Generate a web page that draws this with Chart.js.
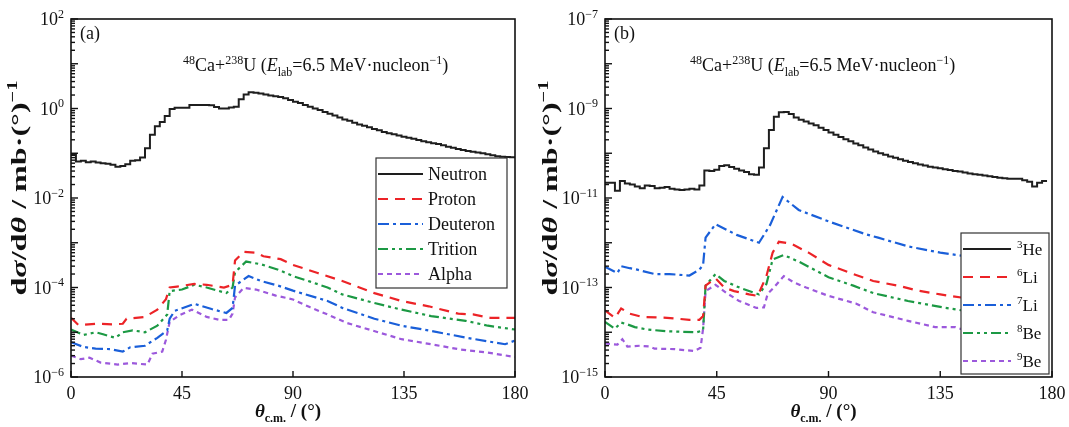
<!DOCTYPE html>
<html>
<head>
<meta charset="utf-8">
<script src="https://cdn.jsdelivr.net/npm/chart.js@4.4.0/dist/chart.umd.min.js"></script>
<style>
  html, body { margin: 0; padding: 0; background: #fff; }
  #wrap { position: relative; width: 1069px; height: 427px; }
  canvas { position: absolute; top: 0; }
</style>
</head>
<body>
<div id="wrap">
  <canvas id="chartA" width="535" height="427" style="left:0px"></canvas>
  <canvas id="chartB" width="534" height="427" style="left:535px"></canvas>
</div>
<script>
// ---- axis ticks ----
const thetaTicks = [0, 45, 90, 135, 180];
const decadeLabelsA = [2, 0, -2, -4, -6];
const decadeLabelsB = [-7, -9, -11, -13, -15];

// ---- panel (a): light particles ----
const binEdgesA = [0,2,4,6,8,10,12,14,16,18,20,22,24,26,28,30,32,34,36,38,40,42,44,46,48,50,52,54,56,58,
  60,62,64,66,68,70,72,74,76,78,80,82,84,86,88,90,92,94,96,98,100,102,104,106,108,110,112,114,116,118,
  120,122,124,126,128,130,132,134,136,138,140,142,144,146,148,150,152,154,156,158,160,162,164,166,168,170,172,174,176,178,180];
const neutron = [0.095,0.065,0.068,0.063,0.065,0.062,0.06,0.058,0.055,0.05,
  0.052,0.057,0.068,0.07,0.08,0.13,0.26,0.4,0.5,0.68,
  0.98,1.04,1.04,1.04,1.2,1.2,1.2,1.2,1.18,1.08,
  1.0,1.0,1.05,1.1,1.6,2.05,2.3,2.25,2.15,2.05,
  1.95,1.87,1.8,1.7,1.55,1.42,1.32,1.2,1.1,1.0,
  0.92,0.84,0.76,0.7,0.63,0.57,0.53,0.48,0.44,0.41,
  0.38,0.35,0.325,0.3,0.28,0.265,0.25,0.235,0.222,0.21,
  0.198,0.186,0.175,0.168,0.16,0.15,0.14,0.132,0.125,0.118,
  0.112,0.108,0.104,0.1,0.095,0.09,0.086,0.083,0.082,0.081];

const protonTheta = [0,3,10,17,21,22.5,30,35,38.5,40,43,50,55,62,65.5,66.5,70,75,78,85,90,100,110,123,134,145,157,163,170,180];
const proton = [2.1e-5,1.45e-5,1.55e-5,1.5e-5,1.55e-5,2.0e-5,2.2e-5,3.2e-5,5.5e-5,1.0e-4,1.05e-4,1.2e-4,1.15e-4,1.0e-4,1.15e-4,4.0e-4,6.3e-4,6.0e-4,5.0e-4,4.3e-4,3.2e-4,2.1e-4,1.4e-4,7.5e-5,5e-5,3.8e-5,2.6e-5,2.5e-5,2.1e-5,2.1e-5];

const deuteronTheta = [0,5,10,16,21,24,30,35,39,40,42,50,57,63,65.5,66.5,72,77,84,90,104,110,123,134,146,160,176,180];
const deuteron = [6e-6,4.7e-6,4.3e-6,4.2e-6,3.7e-6,4.6e-6,5e-6,7.5e-6,1.1e-5,2.0e-5,3.0e-5,4.3e-5,3.3e-5,2.7e-5,3.5e-5,1.1e-4,1.8e-4,1.4e-4,1.1e-4,8.5e-5,5e-5,3.5e-5,2e-5,1.4e-5,1.07e-5,7.6e-6,5.4e-6,6.5e-6];

const tritonTheta = [0,5,10,13,18,21,25,30,35,39,40,45,50,55,63,65.5,66.5,71,77,84,90,97,104,110,123,134,146,160,169,180];
const triton = [1.15e-5,8.7e-6,1.0e-5,9e-6,7.5e-6,1.0e-5,1.1e-5,1.0e-5,1.4e-5,2.5e-5,8.3e-5,9e-5,1.15e-4,1.0e-4,7.5e-5,1.0e-4,2.2e-4,3.8e-4,3.3e-4,2.5e-4,1.8e-4,1.35e-4,1.0e-4,7e-5,4.5e-5,3.2e-5,2.3e-5,1.8e-5,1.4e-5,1.15e-5];

const alphaTheta = [0,4,7.5,12,19,24,31,33,37,38.5,40,44,49,55,60,64,65.5,66.5,70,75,83,90,97,104,112,122,134,146,158,169,180];
const alpha = [3e-6,2.5e-6,2.7e-6,2.1e-6,1.9e-6,2.05e-6,1.9e-6,3.3e-6,3.7e-6,6.8e-6,1.7e-5,2.4e-5,3.2e-5,2.2e-5,1.9e-5,1.9e-5,2.6e-5,6e-5,9.8e-5,9e-5,6.6e-5,5.4e-5,3.6e-5,2.5e-5,1.6e-5,1.1e-5,7e-6,5.4e-6,4.1e-6,3.5e-6,2.8e-6];

const seriesNamesA = ["Neutron", "Proton", "Deuteron", "Trition", "Alpha"];

// ---- panel (b): clusters ----
const binEdgesB = [0,2,4,6,8,10,12,14,16,18,20,22,24,26,28,30,32,34,36,38,40,42,44,46,48,50,52,54,56,58,
  60,62,64,66,68,70,72,74,76,78,80,82,84,86,88,90,92,94,96,98,100,102,104,106,108,110,112,114,116,118,
  120,122,124,126,128,130,132,134,136,138,140,142,144,146,148,150,152,154,156,158,160,162,164,166,168,170,172,174,176,178];
const helium3 = [2.2e-11,2.2e-11,1.45e-11,2.4e-11,2.1e-11,2.0e-11,1.8e-11,1.65e-11,1.9e-11,1.85e-11,
  1.65e-11,1.7e-11,1.75e-11,1.6e-11,1.55e-11,1.5e-11,1.55e-11,1.6e-11,1.55e-11,1.9e-11,
  4.1e-11,4.0e-11,4.3e-11,5.2e-11,5.4e-11,4.9e-11,4.5e-11,4.1e-11,3.8e-11,3.4e-11,
  3.3e-11,4.8e-11,1.3e-10,3.3e-10,6.5e-10,8.2e-10,8.3e-10,7.5e-10,6.3e-10,5.6e-10,
  5.1e-10,4.6e-10,4.2e-10,3.7e-10,3.3e-10,2.9e-10,2.6e-10,2.3e-10,2.05e-10,1.85e-10,
  1.65e-10,1.5e-10,1.35e-10,1.22e-10,1.1e-10,1.0e-10,9.2e-11,8.5e-11,7.9e-11,7.3e-11,
  6.8e-11,6.4e-11,6.0e-11,5.6e-11,5.3e-11,5.0e-11,4.8e-11,4.6e-11,4.4e-11,4.2e-11,
  4.0e-11,3.9e-11,3.7e-11,3.55e-11,3.4e-11,3.3e-11,3.2e-11,3.05e-11,2.95e-11,2.85e-11,
  2.75e-11,2.7e-11,2.7e-11,2.7e-11,2.5e-11,2.3e-11,1.8e-11,2.2e-11,2.4e-11];

const li6Theta = [0,4,6.5,10,15,25,34,38,39.5,40.5,44.5,48,52,58,61.5,65,67.5,70,75,82,90,100,108,118,126,135,145];
const li6 = [3.1e-14,2.1e-14,3.4e-14,2.6e-14,2.2e-14,2.1e-14,1.9e-14,1.9e-14,2.3e-14,1.1e-13,1.6e-13,1.0e-13,8.3e-14,7e-14,6.5e-14,1.8e-13,6e-13,1.05e-12,9.5e-13,6e-13,3.2e-13,2.0e-13,1.4e-13,1.1e-13,8.5e-14,7e-14,5.8e-14];

const li7Theta = [0,5,6.5,10,13,20,26,34,38,39.5,40.5,44.5,53,62,66.5,71.5,78,90,105,110,122,135,145];
const li7 = [2.9e-13,2.1e-13,3e-13,2.7e-13,2.5e-13,2.0e-13,2.0e-13,1.85e-13,2.5e-13,3.2e-13,1.3e-12,2.6e-12,1.5e-12,1.0e-12,2.5e-12,1.05e-11,5.4e-12,3.0e-12,1.55e-12,1.3e-12,8.3e-13,6e-13,5e-13];

const be8Theta = [0,4,6.5,9,12,17,25,37,39.5,40.5,44.5,48,55,62,65,67.5,72,78,90,100,108,122,136,145];
const be8 = [1.7e-14,1.2e-14,1.65e-14,1.5e-14,1.3e-14,1.15e-14,1.05e-14,1.0e-14,1.1e-14,1.1e-13,2.0e-13,1.4e-13,9.5e-14,7e-14,1.2e-13,4.2e-13,5.3e-13,3.8e-13,1.7e-13,1.1e-13,7.5e-14,5e-14,3.6e-14,3e-14];

const be9Theta = [0,5,7,9,14,18,20,28,36,38.5,39.5,40.5,44.5,49,54,61,64,65.5,68,72,76,81,90,101,108,122,133,141,145];
const be9 = [5.6e-15,5.3e-15,7e-15,4.8e-15,5e-15,4.8e-15,4.3e-15,4.2e-15,3.8e-15,4.5e-15,1.2e-14,8.3e-14,1.15e-13,7.5e-14,5e-14,3.5e-14,3.6e-14,7.2e-14,1e-13,1.8e-13,1.3e-13,1.0e-13,6.5e-14,4.4e-14,2.8e-14,1.8e-14,1.3e-14,1.3e-14,1.1e-14];

const isotopeMass = ["3", "6", "7", "8", "9"];
const isotopeSymbol = ["He", "Li", "Li", "Be", "Be"];

// ---- styles ----
const colors = ["#1e1e1e", "#ec2327", "#1a5fd9", "#1c9944", "#9c59dc"];
const dashes = [[], [10, 7], [11, 4, 3, 4], [10, 4, 3, 4, 3, 4], [5, 4]];
const SERIF = '"Liberation Serif", "Times New Roman", serif';

const pts = (xs, ys) => xs.map((x, i) => ({ x, y: ys[i] }));
const stepPts = (edges, vals) => edges.map((x, i) => ({ x, y: vals[Math.min(i, vals.length - 1)] }));

function lineSet(label, data, i, stepped) {
  return {
    label, data,
    borderColor: colors[i],
    borderDash: dashes[i],
    borderWidth: i === 0 ? 2 : 2.2,
    pointRadius: 0,
    fill: false,
    tension: 0,
    stepped: stepped ? "before" : false,
  };
}

// rich text: parts = [{t, sup, sub, it}]
function richFont(p, base, bold) {
  const small = Math.round(base * 0.65);
  return `${p.it ? "italic " : ""}${bold ? "bold " : ""}${p.sup || p.sub ? small : base}px ${SERIF}`;
}
function measureRich(ctx, parts, base, bold) {
  let w = 0;
  parts.forEach((p) => { ctx.font = richFont(p, base, bold); p.w = ctx.measureText(p.t).width; w += p.w; });
  return w;
}
function drawRich(ctx, parts, x, y, base, align, bold) {
  const w = measureRich(ctx, parts, base, bold);
  let cx = align === "center" ? x - w / 2 : align === "right" ? x - w : x;
  ctx.textAlign = "left";
  ctx.textBaseline = "alphabetic";
  parts.forEach((p) => {
    ctx.font = richFont(p, base, bold);
    const dy = p.sup ? -base * 0.4 : p.sub ? base * 0.25 : 0;
    ctx.fillText(p.t, cx, y + dy);
    cx += p.w;
  });
  return w;
}

const reactionParts = () => [
  { t: "48", sup: 1 }, { t: "Ca+" }, { t: "238", sup: 1 }, { t: "U (" },
  { t: "E", it: 1 }, { t: "lab", sub: 1 }, { t: "=6.5 MeV·nucleon" }, { t: "−1", sup: 1 }, { t: ")" },
];
const yTitleParts = () => [
  { t: "d" }, { t: "σ", it: 1 }, { t: "/d" }, { t: "θ", it: 1 }, { t: " / mb·(°)" }, { t: "−1", sup: 1 },
];

const framePlugin = {
  id: "frame",
  afterDraw(chart, args, o) {
    const { ctx, chartArea: a, scales: { x, y } } = chart;
    ctx.save();
    ctx.fillStyle = "#111";
    ctx.strokeStyle = "#111";

    // inward ticks on bottom axis
    ctx.lineWidth = 1.4;
    thetaTicks.forEach((v) => {
      const px = x.getPixelForValue(v);
      ctx.beginPath(); ctx.moveTo(px, a.bottom); ctx.lineTo(px, a.bottom - 6); ctx.stroke();
      drawRich(ctx, [{ t: String(v) }], px, a.bottom + 22, 18, "center");
    });

    // log ticks on left axis
    const lo = Math.round(Math.log10(y.min)), hi = Math.round(Math.log10(y.max));
    for (let d = lo; d <= hi; d++) {
      const py = y.getPixelForValue(Math.pow(10, d));
      ctx.beginPath(); ctx.moveTo(a.left, py); ctx.lineTo(a.left + 7, py); ctx.stroke();
      if (d < hi) {
        for (let m = 2; m <= 9; m++) {
          const pm = y.getPixelForValue(m * Math.pow(10, d));
          ctx.beginPath(); ctx.moveTo(a.left, pm); ctx.lineTo(a.left + 4, pm); ctx.stroke();
        }
      }
    }
    o.decades.forEach((d) => {
      const py = y.getPixelForValue(Math.pow(10, d));
      drawRich(ctx, [{ t: "10" }, { t: d < 0 ? "−" + (-d) : String(d), sup: 1 }], a.left - 7, py + 6, 18, "right");
    });

    // frame
    ctx.lineWidth = 1.6;
    ctx.strokeRect(a.left, a.top, a.right - a.left, a.bottom - a.top);

    // panel tag and reaction
    drawRich(ctx, [{ t: o.tag }], a.left + 9, a.top + 20, 18, "left");
    drawRich(ctx, reactionParts(), a.left + o.reactionDx, a.top + 52, 18, "left");

    // axis titles
    drawRich(ctx, [{ t: "θ", it: 1 }, { t: "c.m.", sub: 1 }, { t: " / (°)" }],
      (a.left + a.right) / 2 - 5, a.bottom + 40, 19, "center", true);
    ctx.save();
    ctx.translate(o.yTitleX, o.yTitleY);
    ctx.rotate(-Math.PI / 2);
    const tw = measureRich(ctx, yTitleParts(), 22, true);
    ctx.scale(o.yTitleLen / tw, 1);
    drawRich(ctx, yTitleParts(), 0, 0, 22, "center", true);
    ctx.restore();

    // legend box
    const L = o.legend;
    ctx.fillStyle = "#fff";
    ctx.fillRect(L.left, L.top, L.width, L.height);
    ctx.lineWidth = 1.2;
    ctx.strokeStyle = "#333";
    ctx.strokeRect(L.left, L.top, L.width, L.height);
    chart.data.datasets.forEach((ds, i) => {
      const ry = L.rows[i];
      ctx.save();
      ctx.strokeStyle = ds.borderColor;
      ctx.lineWidth = ds.borderWidth;
      ctx.setLineDash(ds.borderDash);
      ctx.beginPath(); ctx.moveTo(L.lineX0, ry); ctx.lineTo(L.lineX1, ry); ctx.stroke();
      ctx.restore();
      ctx.fillStyle = "#111";
      drawRich(ctx, L.labels[i], L.textX, ry + 6, L.font, "left");
    });
    ctx.restore();
  },
};

function makeChart(id, datasets, yMin, yMax, padding, opts) {
  return new Chart(document.getElementById(id), {
    type: "line",
    data: { datasets },
    options: {
      responsive: false,
      animation: false,
      devicePixelRatio: 1,
      events: [],
      layout: { padding },
      scales: {
        x: { type: "linear", min: 0, max: 180, display: false },
        y: { type: "logarithmic", min: yMin, max: yMax, display: false },
      },
      plugins: { legend: { display: false }, tooltip: { enabled: false }, frame: opts },
    },
    plugins: [framePlugin],
  });
}

const datasetsA = [
  lineSet(seriesNamesA[0], stepPts(binEdgesA, neutron), 0, true),
  lineSet(seriesNamesA[1], pts(protonTheta, proton), 1),
  lineSet(seriesNamesA[2], pts(deuteronTheta, deuteron), 2),
  lineSet(seriesNamesA[3], pts(tritonTheta, triton), 3),
  lineSet(seriesNamesA[4], pts(alphaTheta, alpha), 4),
];

const datasetsB = [
  lineSet(isotopeMass[0] + isotopeSymbol[0], stepPts(binEdgesB, helium3), 0, true),
  lineSet(isotopeMass[1] + isotopeSymbol[1], pts(li6Theta, li6), 1),
  lineSet(isotopeMass[2] + isotopeSymbol[2], pts(li7Theta, li7), 2),
  lineSet(isotopeMass[3] + isotopeSymbol[3], pts(be8Theta, be8), 3),
  lineSet(isotopeMass[4] + isotopeSymbol[4], pts(be9Theta, be9), 4),
];

makeChart("chartA", datasetsA, 1e-6, 1e2, { left: 71, top: 19, right: 20, bottom: 50 }, {
  decades: decadeLabelsA,
  tag: "(a)",
  reactionDx: 112,
  yTitleX: 26, yTitleY: 188, yTitleLen: 215,
  legend: {
    left: 376, top: 158, width: 131, height: 130,
    rows: [174, 199, 224, 249, 274],
    lineX0: 378, lineX1: 423, textX: 428, font: 18,
    labels: seriesNamesA.map((n) => [{ t: n }]),
  },
});

makeChart("chartB", datasetsB, 1e-15, 1e-7, { left: 70, top: 19, right: 17, bottom: 50 }, {
  decades: decadeLabelsB,
  tag: "(b)",
  reactionDx: 85,
  yTitleX: 22, yTitleY: 188, yTitleLen: 215,
  legend: {
    left: 426, top: 233, width: 88, height: 141,
    rows: [249, 277, 305, 333, 361],
    lineX0: 428, lineX1: 476, textX: 482, font: 17,
    labels: isotopeMass.map((m, i) => [{ t: m, sup: 1 }, { t: isotopeSymbol[i] }]),
  },
});
</script>
</body>
</html>
